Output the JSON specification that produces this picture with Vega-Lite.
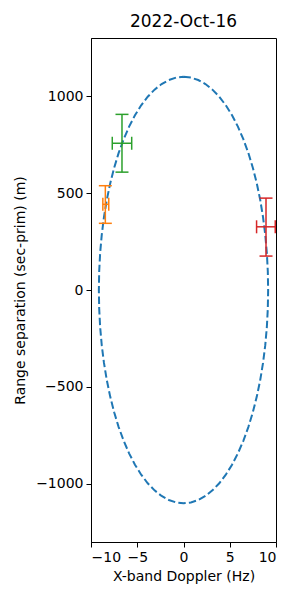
{
  "$schema": "https://vega.github.io/schema/vega-lite/v6.json",
  "autosize": "none",
  "width": 185,
  "height": 504,
  "padding": {"left": 91, "top": 38, "right": 24, "bottom": 58},
  "background": "white",
  "title": {"text": "2022-Oct-16", "font": "DejaVu Sans", "fontSize": 17, "fontWeight": "normal", "color": "black", "offset": 7},
  "datasets": {
    "ellipse": [
      {"t": 0, "x": 0, "y": 1100}, {"t": 5, "x": 0.797, "y": 1095.8}, {"t": 10, "x": 1.589, "y": 1083.3}, {"t": 15, "x": 2.368, "y": 1062.5},
      {"t": 20, "x": 3.129, "y": 1033.7}, {"t": 25, "x": 3.867, "y": 996.9}, {"t": 30, "x": 4.575, "y": 952.6}, {"t": 35, "x": 5.248, "y": 901.1},
      {"t": 40, "x": 5.882, "y": 842.6}, {"t": 45, "x": 6.47, "y": 777.8}, {"t": 50, "x": 7.009, "y": 707.1}, {"t": 55, "x": 7.495, "y": 630.9},
      {"t": 60, "x": 7.924, "y": 550}, {"t": 65, "x": 8.293, "y": 464.9}, {"t": 70, "x": 8.598, "y": 376.2}, {"t": 75, "x": 8.838, "y": 284.7},
      {"t": 80, "x": 9.011, "y": 191.0}, {"t": 85, "x": 9.115, "y": 95.9}, {"t": 90, "x": 9.15, "y": 0},
      {"t": 95, "x": 9.115, "y": -95.9}, {"t": 100, "x": 9.011, "y": -191.0}, {"t": 105, "x": 8.838, "y": -284.7}, {"t": 110, "x": 8.598, "y": -376.2},
      {"t": 115, "x": 8.293, "y": -464.9}, {"t": 120, "x": 7.924, "y": -550}, {"t": 125, "x": 7.495, "y": -630.9}, {"t": 130, "x": 7.009, "y": -707.1},
      {"t": 135, "x": 6.47, "y": -777.8}, {"t": 140, "x": 5.882, "y": -842.6}, {"t": 145, "x": 5.248, "y": -901.1}, {"t": 150, "x": 4.575, "y": -952.6},
      {"t": 155, "x": 3.867, "y": -996.9}, {"t": 160, "x": 3.129, "y": -1033.7}, {"t": 165, "x": 2.368, "y": -1062.5}, {"t": 170, "x": 1.589, "y": -1083.3},
      {"t": 175, "x": 0.797, "y": -1095.8}, {"t": 180, "x": 0, "y": -1100},
      {"t": 185, "x": -0.797, "y": -1095.8}, {"t": 190, "x": -1.589, "y": -1083.3}, {"t": 195, "x": -2.368, "y": -1062.5}, {"t": 200, "x": -3.129, "y": -1033.7},
      {"t": 205, "x": -3.867, "y": -996.9}, {"t": 210, "x": -4.575, "y": -952.6}, {"t": 215, "x": -5.248, "y": -901.1}, {"t": 220, "x": -5.882, "y": -842.6},
      {"t": 225, "x": -6.47, "y": -777.8}, {"t": 230, "x": -7.009, "y": -707.1}, {"t": 235, "x": -7.495, "y": -630.9}, {"t": 240, "x": -7.924, "y": -550},
      {"t": 245, "x": -8.293, "y": -464.9}, {"t": 250, "x": -8.598, "y": -376.2}, {"t": 255, "x": -8.838, "y": -284.7}, {"t": 260, "x": -9.011, "y": -191.0},
      {"t": 265, "x": -9.115, "y": -95.9}, {"t": 270, "x": -9.15, "y": 0},
      {"t": 275, "x": -9.115, "y": 95.9}, {"t": 280, "x": -9.011, "y": 191.0}, {"t": 285, "x": -8.838, "y": 284.7}, {"t": 290, "x": -8.598, "y": 376.2},
      {"t": 295, "x": -8.293, "y": 464.9}, {"t": 300, "x": -7.924, "y": 550}, {"t": 305, "x": -7.495, "y": 630.9}, {"t": 310, "x": -7.009, "y": 707.1},
      {"t": 315, "x": -6.47, "y": 777.8}, {"t": 320, "x": -5.882, "y": 842.6}, {"t": 325, "x": -5.248, "y": 901.1}, {"t": 330, "x": -4.575, "y": 952.6},
      {"t": 335, "x": -3.867, "y": 996.9}, {"t": 340, "x": -3.129, "y": 1033.7}, {"t": 345, "x": -2.368, "y": 1062.5}, {"t": 350, "x": -1.589, "y": 1083.3},
      {"t": 355, "x": -0.797, "y": 1095.8}, {"t": 360, "x": 0, "y": 1100}
    ],
    "errs": [
      {"name": "green", "x": -6.65, "y": 757, "xlo": -7.7, "xhi": -5.6, "ylo": 608, "yhi": 906},
      {"name": "orange", "x": -8.45, "y": 442, "xlo": -8.72, "xhi": -8.08, "ylo": 344, "yhi": 538},
      {"name": "red", "x": 8.92, "y": 326, "xlo": 7.9, "xhi": 9.92, "ylo": 175, "yhi": 474}
    ]
  },
  "encoding": {
    "x": {"type": "quantitative", "scale": {"domain": [-10, 10], "nice": false, "zero": false},
      "axis": {"title": "X-band Doppler (Hz)", "values": [-10, -5, 0, 5, 10], "format": "d"}},
    "y": {"type": "quantitative", "scale": {"domain": [-1300, 1300], "nice": false, "zero": false},
      "axis": {"title": "Range separation (sec-prim) (m)", "values": [-1000, -500, 0, 500, 1000], "format": "d", "titlePadding": 8}}
  },
  "layer": [
    {
      "data": {"name": "ellipse"},
      "mark": {"type": "line", "color": "#1f77b4", "strokeWidth": 2, "strokeDash": [7.4, 3.2], "clip": true},
      "encoding": {"x": {"field": "x"}, "y": {"field": "y"}, "order": {"field": "t", "type": "quantitative"}}
    },
    {
      "data": {"name": "errs"},
      "mark": {"type": "rule", "strokeWidth": 1.5, "clip": true},
      "encoding": {"x": {"field": "x"}, "y": {"field": "ylo"}, "y2": {"field": "yhi"},
        "color": {"field": "name", "type": "nominal", "scale": {"domain": ["green", "orange", "red"], "range": ["#2ca02c", "#ff7f0e", "#d62728"]}, "legend": null}}
    },
    {
      "data": {"name": "errs"},
      "mark": {"type": "rule", "strokeWidth": 1.5, "clip": true},
      "encoding": {"x": {"field": "xlo"}, "x2": {"field": "xhi"}, "y": {"field": "y"},
        "color": {"field": "name", "type": "nominal", "legend": null}}
    },
    {
      "data": {"name": "errs"},
      "mark": {"type": "tick", "orient": "horizontal", "size": 13, "thickness": 1.5, "opacity": 1, "clip": true},
      "encoding": {"x": {"field": "x"}, "y": {"field": "ylo"}, "color": {"field": "name", "type": "nominal", "legend": null}}
    },
    {
      "data": {"name": "errs"},
      "mark": {"type": "tick", "orient": "horizontal", "size": 13, "thickness": 1.5, "opacity": 1, "clip": true},
      "encoding": {"x": {"field": "x"}, "y": {"field": "yhi"}, "color": {"field": "name", "type": "nominal", "legend": null}}
    },
    {
      "data": {"name": "errs"},
      "mark": {"type": "tick", "orient": "vertical", "size": 13, "thickness": 1.5, "opacity": 1, "clip": true},
      "encoding": {"x": {"field": "xlo"}, "y": {"field": "y"}, "color": {"field": "name", "type": "nominal", "legend": null}}
    },
    {
      "data": {"name": "errs"},
      "mark": {"type": "tick", "orient": "vertical", "size": 13, "thickness": 1.5, "opacity": 1, "clip": true},
      "encoding": {"x": {"field": "xhi"}, "y": {"field": "y"}, "color": {"field": "name", "type": "nominal", "legend": null}}
    }
  ],
  "config": {
    "view": {"stroke": "black", "strokeWidth": 1},
    "axis": {
      "grid": false, "domainColor": "black", "domainWidth": 1, "tickColor": "black", "tickSize": 5, "tickWidth": 1,
      "labelFont": "DejaVu Sans", "labelFontSize": 14, "labelColor": "black", "labelPadding": 3,
      "titleFont": "DejaVu Sans", "titleFontSize": 14, "titleColor": "black", "titleFontWeight": "normal", "titlePadding": 5
    }
  }
}
